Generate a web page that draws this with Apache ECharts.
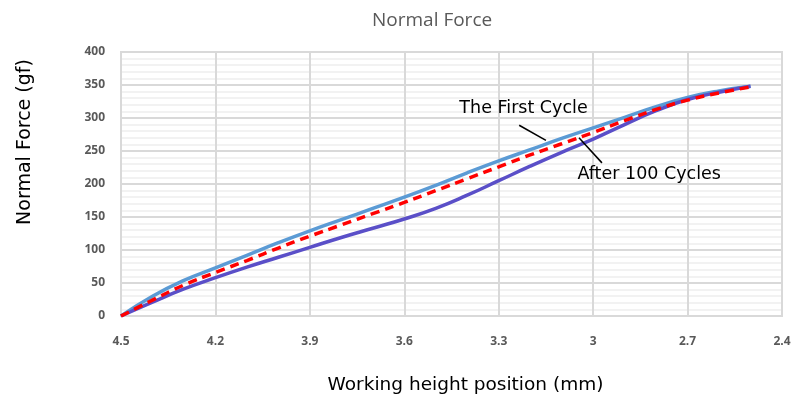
<!DOCTYPE html>
<html>
<head>
<meta charset="utf-8">
<script src="https://cdn.jsdelivr.net/npm/echarts@6/dist/echarts.min.js"></script>
<style>html,body{margin:0;padding:0;background:#fff}#c{width:810px;height:406px}</style>
</head>
<body>
<div id="c"></div>
<script>
var heights = [4.5, 4.4, 4.3, 4.2, 4.1, 4.0, 3.9, 3.8, 3.7, 3.6, 3.5, 3.4, 3.3, 3.2, 3.1, 3.0, 2.9, 2.8, 2.7, 2.6, 2.5];
var firstCycle = [0, 30, 54, 73, 92, 111, 129, 146, 163, 180, 198, 217, 235, 252, 269, 285, 301, 317, 331, 341, 348];
var midCycle = [0, 24, 47, 66, 84, 103, 121, 138, 155, 172, 190, 208, 226, 244, 261, 278, 296, 313, 327, 338, 347];
var after100 = [0, 21, 41, 58, 74, 89, 104, 119, 133, 147, 163, 183, 205, 227, 248, 268, 290, 311, 328, 339, 348];
var yTicks = [0, 50, 100, 150, 200, 250, 300, 350, 400];
var xTicks = [2.4, 2.7, 3.0, 3.3, 3.6, 3.9, 4.2, 4.5];

function pairs(xs, ys) { return xs.map(function (x, i) { return [x, ys[i]]; }); }

var labelFont = 'DejaVu Sans';
var chart = echarts.init(document.getElementById('c'));
var option = {
  animation: false,
  backgroundColor: '#fff',
  title: {
    text: 'Normal Force', left: 367, top: 6,
    textStyle: { fontFamily: 'Liberation Sans Narrow, Open Sans', fontWeight: 'normal', fontSize: 19, color: '#595959' }
  },
  grid: { left: 121, right: 28, top: 52, bottom: 90, show: true, borderColor: '#d9d9d9', borderWidth: 2 },
  xAxis: {
    type: 'value', inverse: true, min: xTicks[0], max: xTicks[xTicks.length - 1], interval: 0.3,
    name: 'Working height position (mm)', nameLocation: 'middle', nameGap: 60,
    nameTextStyle: { fontFamily: labelFont, fontSize: 18.5, color: '#000', padding: [0, 0, 0, 28] },
    axisLine: { show: false }, axisTick: { show: false },
    axisLabel: { margin: 20, color: '#595959', fontWeight: 'bold', fontSize: 12, fontFamily: 'Open Sans',
      formatter: function (v) { return String(+v.toFixed(1)); } },
    splitLine: { show: true, lineStyle: { color: '#d9d9d9', width: 2 } }
  },
  yAxis: {
    type: 'value', min: yTicks[0], max: yTicks[yTicks.length - 1], interval: 50,
    axisLine: { show: false }, axisTick: { show: false },
    axisLabel: { margin: 16, color: '#595959', fontWeight: 'bold', fontSize: 12, fontFamily: 'Open Sans' },
    splitLine: { show: true, lineStyle: { color: '#d9d9d9', width: 2 } },
    minorTick: { show: false, splitNumber: 5 },
    minorSplitLine: { show: true, lineStyle: { color: '#eeeeee', width: 1.5 } }
  },
  series: [
    { type: 'line', data: pairs(heights, firstCycle), smooth: 0.5, showSymbol: false,
      lineStyle: { color: '#5b9bd5', width: 3.5 } },
    { type: 'line', data: pairs(heights, after100), smooth: 0.5, showSymbol: false,
      lineStyle: { color: '#5a4fc8', width: 3.5 } },
    { type: 'line', data: pairs(heights, midCycle), smooth: 0.5, showSymbol: false, z: 5,
      lineStyle: { color: '#ff0000', width: 3.5, type: [9, 6] } }
  ]
};
chart.setOption(option);

// annotations in data coordinates
var notes = [
  { text: 'The First Cycle', at: [3.425, 314], from: [3.235, 289], to: [3.150, 266] },
  { text: 'After 100 Cycles', at: [3.05, 214], from: [3.045, 270], to: [2.972, 232] }
];
var g = [];
notes.forEach(function (n) {
  var p = chart.convertToPixel({ gridIndex: 0 }, n.at);
  var a = chart.convertToPixel({ gridIndex: 0 }, n.from);
  var b = chart.convertToPixel({ gridIndex: 0 }, n.to);
  g.push({ type: 'text', x: p[0], y: p[1], z: 10,
    style: { text: n.text, fontFamily: labelFont, fontSize: 17.5, fill: '#000', verticalAlign: 'middle', align: 'left' } });
  g.push({ type: 'line', z: 10, shape: { x1: a[0], y1: a[1], x2: b[0], y2: b[1] },
    style: { stroke: '#000', lineWidth: 1.5 } });
});
g.push({ type: 'text', x: 25, y: 142, rotation: Math.PI / 2, z: 10,
  style: { text: 'Normal Force (gf)', fontFamily: labelFont, fontSize: 19, fill: '#000', align: 'center', verticalAlign: 'middle' } });
chart.setOption({ graphic: g });
</script>
</body>
</html>
